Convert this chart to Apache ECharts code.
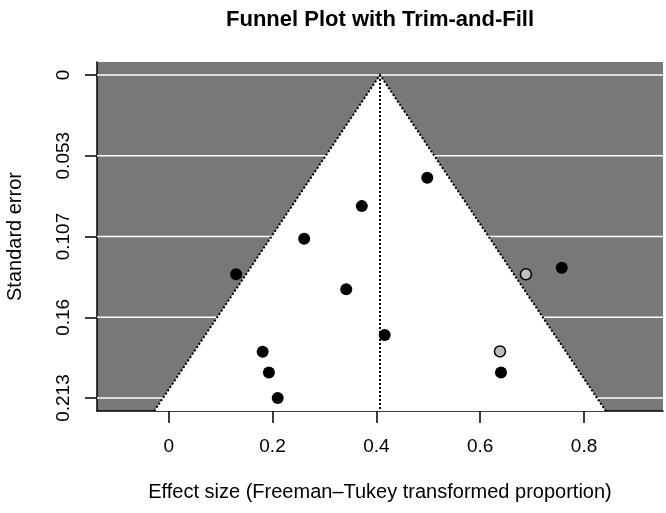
<!DOCTYPE html>
<html>
<head>
<meta charset="utf-8">
<script src="https://cdn.jsdelivr.net/npm/echarts@6/dist/echarts.min.js"></script>
<style>
  html, body { margin: 0; padding: 0; background: #fff; }
  #chart { width: 666px; height: 513px; }
</style>
</head>
<body>
<div id="chart"></div>
<script>
// trim-and-fill estimate and largest standard error
const theta = 0.407;
const seMax = 0.2133;

// axis ticks
const xTicks = [0, 0.2, 0.4, 0.6, 0.8];
const yTicks = [0, 0.0533, 0.1067, 0.16, 0.2133];
const yTickLabels = ['0', '0.053', '0.107', '0.16', '0.213'];

// observed studies
const studyEffect = [0.498, 0.372, 0.261, 0.130, 0.342, 0.416, 0.181, 0.193, 0.210, 0.757, 0.640];
const studySE = [0.0679, 0.0866, 0.1081, 0.1316, 0.1415, 0.1716, 0.1828, 0.1964, 0.2133, 0.1272, 0.1964];

// studies imputed by trim-and-fill
const filledEffect = [0.688, 0.638];
const filledSE = [0.1316, 0.1825];

const yMin = -seMax * 0.04;
const yMax = seMax * 1.04;
const xMin = theta - 0.545;
const xMax = theta + 0.545;

const fontFamily = "'Liberation Sans', Arial, sans-serif";

const chart = echarts.init(document.getElementById('chart'));

// 漏斗：白色三角 + 虚线边
const renderFunnel = (params, api) => {
    const apex = api.coord([theta, 0]);
    const bl = api.coord([theta - 1.96 * yMax, yMax]);
    const br = api.coord([theta + 1.96 * yMax, yMax]);
    const bc = api.coord([theta, yMax]);
    return {
        type: 'group',
        children: [
            { type: 'polygon', shape: { points: [apex, bl, br] }, style: { fill: '#fff' } },
            { type: 'polyline', shape: { points: [bl, apex, br] },
              style: { fill: null, stroke: '#000', lineWidth: 2, lineDash: [2, 2] } },
            { type: 'line', shape: { x1: apex[0], y1: apex[1], x2: bc[0], y2: bc[1] },
              style: { stroke: '#000', lineWidth: 2, lineDash: [2, 2] } }
        ]
    };
};

// 白色网格线
const renderGrid = (params, api) => {
    const cs = params.coordSys;
    const p = api.coord([xMin, api.value(1)]);
    return {
        type: 'line',
        shape: { x1: cs.x, y1: p[1], x2: cs.x + cs.width, y2: p[1] },
        style: { stroke: '#fff', lineWidth: 1.5 }
    };
};

const option = {
    animation: false,
    title: {
        text: 'Funnel Plot with Trim-and-Fill',
        left: 375,
        top: 4,
        textAlign: 'center',
        textStyle: { fontFamily, fontSize: 22, fontWeight: 'bold', color: '#000' }
    },
    grid: {
        left: 97, right: 3, top: 62, bottom: 102,
        outerBoundsMode: 'none',
        containLabel: false,
        show: true, backgroundColor: '#787878', borderWidth: 0
    },
    xAxis: {
        type: 'value',
        min: xMin,
        max: xMax,
        name: 'Effect size (Freeman\u2013Tukey transformed proportion)',
        nameLocation: 'middle',
        nameGap: 71,
        nameTextStyle: { fontFamily, fontSize: 20, color: '#000' },
        axisLine: { onZero: false, lineStyle: { color: '#000', width: 1.5 } },
        axisTick: { length: 12, customValues: xTicks, lineStyle: { color: '#000', width: 1.5 } },
        axisLabel: {
            customValues: xTicks, margin: 26,
            fontFamily, fontSize: 19, color: '#000',
            formatter: (v) => String(Math.round(v * 10) / 10)
        },
        splitLine: { show: false }
    },
    yAxis: {
        type: 'value',
        inverse: true,
        min: yMin,
        max: yMax,
        name: 'Standard error',
        nameLocation: 'middle',
        nameGap: 72,
        nameTextStyle: { fontFamily, fontSize: 20, color: '#000' },
        axisLine: { show: true, onZero: false, lineStyle: { color: '#000', width: 1.5 } },
        axisTick: { show: true, length: 12, customValues: yTicks, lineStyle: { color: '#000', width: 1.5 } },
        axisLabel: {
            customValues: yTicks, rotate: 90, margin: 24,
            fontFamily, fontSize: 19, color: '#000',
            formatter: (v) => {
                const i = yTicks.findIndex((t) => Math.abs(t - v) < 1e-6);
                return i >= 0 ? yTickLabels[i] : '';
            }
        },
        splitLine: { show: false }
    },
    series: [
        {
            type: 'custom',
            z: 1,
            silent: true,
            renderItem: renderGrid,
            data: yTicks.map((t) => [xMin, t])
        },
        {
            type: 'custom',
            z: 2,
            silent: true,
            renderItem: renderFunnel,
            data: [[theta, 0]]
        },
        {
            type: 'scatter',
            z: 3,
            symbolSize: 12,
            itemStyle: { color: '#000', opacity: 1 },
            data: studyEffect.map((x, i) => [x, studySE[i]])
        },
        {
            type: 'scatter',
            z: 3,
            symbolSize: 11,
            itemStyle: { color: '#bebebe', borderColor: '#000', borderWidth: 1.5, opacity: 1 },
            data: filledEffect.map((x, i) => [x, filledSE[i]])
        }
    ]
};

chart.setOption(option);
</script>
</body>
</html>
